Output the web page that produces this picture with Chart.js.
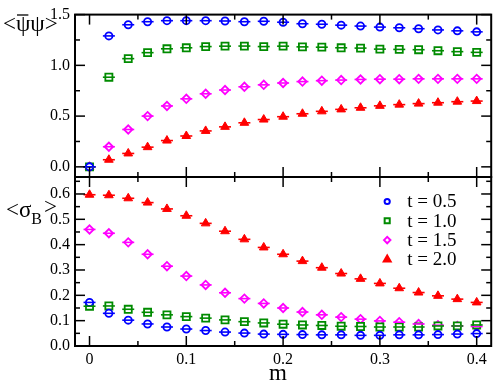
<!DOCTYPE html>
<html>
<head>
<meta charset="utf-8">
<script src="https://cdn.jsdelivr.net/npm/chart.js@4/dist/chart.umd.min.js"></script>
<style>
html,body{margin:0;padding:0;background:#fff;}
#wrap{position:relative;width:498px;height:381px;}
#wrap canvas{position:absolute;left:0;top:0;}
</style>
</head>
<body>
<div id="wrap">
<canvas id="cTop" width="498" height="381"></canvas>
<canvas id="cBot" width="498" height="381"></canvas>
</div>
<script>
// ---- data ----
const mValues = [0,0.02,0.04,0.06,0.08,0.10,0.12,0.14,0.16,0.18,0.20,0.22,0.24,0.26,0.28,0.30,0.32,0.34,0.36,0.38,0.40];
const seriesLabels = ["t = 0.5","t = 1.0","t = 1.5","t = 2.0"];

const psibarpsi_t05 = [0,1.29,1.40,1.43,1.44,1.44,1.44,1.437,1.43,1.434,1.425,1.41,1.405,1.396,1.387,1.377,1.37,1.361,1.349,1.34,1.33];
const psibarpsi_t10 = [0,0.883,1.066,1.125,1.163,1.173,1.185,1.189,1.19,1.185,1.189,1.182,1.179,1.173,1.17,1.16,1.157,1.154,1.144,1.135,1.128];
const psibarpsi_t15 = [0,0.198,0.368,0.5,0.6,0.67,0.72,0.757,0.789,0.808,0.826,0.84,0.849,0.855,0.861,0.864,0.864,0.867,0.867,0.867,0.867];
const psibarpsi_t20 = [0,0.07,0.132,0.194,0.259,0.304,0.354,0.394,0.434,0.466,0.494,0.523,0.547,0.566,0.582,0.601,0.613,0.623,0.632,0.642,0.648];

const sigmaB_t05 = [0.172,0.129,0.102,0.087,0.075,0.067,0.061,0.055,0.051,0.047,0.046,0.045,0.044,0.044,0.042,0.042,0.044,0.044,0.045,0.047,0.049];
const sigmaB_t10 = [0.157,0.158,0.145,0.133,0.123,0.116,0.11,0.103,0.096,0.091,0.086,0.083,0.081,0.078,0.077,0.075,0.075,0.075,0.079,0.079,0.083];
const sigmaB_t15 = [0.46,0.445,0.409,0.362,0.315,0.276,0.241,0.21,0.187,0.168,0.15,0.134,0.123,0.114,0.106,0.099,0.094,0.087,0.082,0.079,0.077];
const sigmaB_t20 = [0.597,0.595,0.583,0.566,0.541,0.514,0.484,0.453,0.421,0.389,0.362,0.335,0.309,0.286,0.265,0.247,0.228,0.211,0.198,0.185,0.172];

// ---- tick labels ----
const xMajorTicks = [0,0.1,0.2,0.3,0.4];
const xMinorTicks = [0.05,0.15,0.25,0.35];
const xTickLabels = ["0","0.1","0.2","0.3","0.4"];
const yTopMajorTicks = [0,0.5,1.0,1.5];
const yTopMinorTicks = [0.25,0.75,1.25];
const yTopTickLabels = ["0.0","0.5","1.0","1.5"];
const yBotMajorTicks = [0,0.1,0.2,0.3,0.4,0.5,0.6];
const yBotMinorTicks = [0.05,0.15,0.25,0.35,0.45,0.55,0.65];
const yBotTickLabels = ["0.0","0.1","0.2","0.3","0.4","0.5","0.6"];

const xTitle = "m";

// ---- styles ----
const FONT = "'Liberation Serif', 'DejaVu Serif', serif";
const styles = [
  {color:'#0000ff', pointStyle:'circle',  radius:3.6, bg:'#ffffff', bw:1.8, lr:2.6},
  {color:'#008b00', pointStyle:'rect',    radius:5.0, bg:'#ffffff', bw:1.8, lr:3.6},
  {color:'#ff00ff', pointStyle:'rectRot', radius:4.2, bg:'#ffffff', bw:1.8, lr:3.2},
  {color:'#ff0000', pointStyle:'triangle',radius:5.0, bg:'#ff0000', bw:1.0, lr:4.0}
];

function makeDatasets(arrs){
  return arrs.map((vals,i)=>({
    label: seriesLabels[i],
    data: mValues.map((m,j)=>({x:m, y:vals[j]})),
    showLine:false,
    pointStyle: styles[i].pointStyle,
    pointRadius: styles[i].radius,
    pointBorderWidth: styles[i].bw,
    pointBorderColor: styles[i].color,
    pointBackgroundColor: styles[i].bg,
    borderColor: styles[i].color,
    backgroundColor: styles[i].bg
  }));
}

const capsPlugin = {
  id:'caps',
  afterDatasetsDraw(chart){
    const ctx = chart.ctx;
    ctx.save();
    ctx.lineWidth = 1.6;
    for (let d = chart.data.datasets.length-1; d >= 0; d--){
      const meta = chart.getDatasetMeta(d);
      ctx.strokeStyle = chart.data.datasets[d].borderColor;
      meta.data.forEach(el=>{
        ctx.beginPath();
        ctx.moveTo(el.x-6, el.y);
        ctx.lineTo(el.x+6, el.y);
        ctx.stroke();
      });
    }
    ctx.restore();
  }
};

const frameTicksPlugin = {
  id:'frameTicks',
  afterDraw(chart, args, opts){
    const {ctx, chartArea:a, scales:{x,y}} = chart;
    ctx.save();
    ctx.strokeStyle = '#000';
    ctx.lineWidth = 1.5;
    const seg=(x1,y1,x2,y2)=>{ctx.beginPath();ctx.moveTo(x1,y1);ctx.lineTo(x2,y2);ctx.stroke();};
    const MAJ=10, MIN=5;
    xMajorTicks.forEach(v=>{const p=x.getPixelForValue(v); seg(p,a.bottom,p,a.bottom-MAJ); seg(p,a.top,p,a.top+MAJ);});
    xMinorTicks.forEach(v=>{const p=x.getPixelForValue(v); seg(p,a.bottom,p,a.bottom-MIN); seg(p,a.top,p,a.top+MIN);});
    opts.yMajor.forEach(v=>{const p=y.getPixelForValue(v); seg(a.left,p,a.left+MAJ,p); seg(a.right,p,a.right-MAJ,p);});
    opts.yMinor.forEach(v=>{const p=y.getPixelForValue(v); seg(a.left,p,a.left+MIN,p); seg(a.right,p,a.right-MIN,p);});
    ctx.lineWidth = 2;
    ctx.strokeRect(a.left, a.top, a.width, a.height);
    ctx.restore();
  }
};

const titlesPlugin = {
  id:'titles',
  afterDraw(chart, args, opts){
    const ctx = chart.ctx;
    const a = chart.chartArea;
    ctx.save();
    ctx.fillStyle = '#000';
    ctx.strokeStyle = '#000';
    ctx.textBaseline = 'alphabetic';
    ctx.textAlign = 'left';
    if (opts.kind === 'top'){
      ctx.font = "23px " + FONT;
      let xx = 3, base = 31;
      ctx.fillText('<', xx, base); xx += ctx.measureText('<').width;
      const wpsi = ctx.measureText('\u03c8').width;
      ctx.fillText('\u03c8', xx, base);
      ctx.lineWidth = 1.3;
      ctx.beginPath(); ctx.moveTo(xx+1, 15); ctx.lineTo(xx+wpsi-2, 15); ctx.stroke();
      xx += wpsi;
      ctx.fillText('\u03c8', xx, base); xx += wpsi;
      ctx.fillText('>', xx, base);
    } else {
      ctx.font = "23px " + FONT;
      let xx = 6, base = 217;
      ctx.fillText('<', xx, base); xx += ctx.measureText('<').width;
      ctx.fillText('\u03c3', xx, base); xx += ctx.measureText('\u03c3').width;
      ctx.font = "16px " + FONT;
      ctx.fillText('B', xx, 224); xx += ctx.measureText('B').width + 2;
      ctx.font = "23px " + FONT;
      ctx.fillText('>', xx, 214);
      // x title
      ctx.textAlign = 'center';
      ctx.font = "23px " + FONT;
      ctx.fillText(xTitle, 278, 380);
      // legend
      const ds = chart.data.datasets;
      const mx = a.right - 104, tx = a.right - 84;
      ctx.textAlign = 'left';
      ctx.textBaseline = 'middle';
      ds.forEach((d,i)=>{
        const yy = a.top + 24.5 + i*19.3;
        ctx.save();
        ctx.strokeStyle = styles[i].color;
        ctx.fillStyle = styles[i].bg;
        ctx.lineWidth = 2;
        Chart.helpers.drawPoint(ctx, {pointStyle: styles[i].pointStyle, radius: styles[i].lr, borderWidth: 2, rotation: 0}, mx, yy);
        ctx.restore();
        ctx.fillStyle = '#000';
        ctx.font = "19px " + FONT;
        ctx.fillText(d.label, tx, yy+1);
      });
    }
    ctx.restore();
  }
};

function baseOptions(){
  return {
    responsive:false,
    animation:false,
    events:[],
    plugins:{legend:{display:false}, tooltip:{enabled:false}},
  };
}

// ---- top panel ----
const topOpts = baseOptions();
topOpts.layout = {padding:{left:0, top:7, right:2, bottom:204}};
topOpts.plugins.frameTicks = {yMajor: yTopMajorTicks, yMinor: yTopMinorTicks};
topOpts.plugins.titles = {kind:'top'};
topOpts.scales = {
  x:{type:'linear', min:-0.015, max:0.415, display:false},
  y:{type:'linear', min:-0.1, max:1.5,
     grid:{display:false, drawTicks:false}, border:{display:false},
     afterBuildTicks: s=>{ s.ticks = yTopMajorTicks.map(v=>({value:v})); },
     afterFit: s=>{ s.width = 75; },
     ticks:{padding:5, color:'#000', font:{family:FONT, size:16},
       callback:(v)=>{ const k = yTopMajorTicks.indexOf(v); return k>=0 ? yTopTickLabels[k] : ''; }}
  }
};
new Chart(document.getElementById('cTop'), {
  type:'scatter',
  data:{datasets: makeDatasets([psibarpsi_t05, psibarpsi_t10, psibarpsi_t15, psibarpsi_t20])},
  options: topOpts,
  plugins:[capsPlugin, frameTicksPlugin, titlesPlugin]
});

// ---- bottom panel ----
const botOpts = baseOptions();
botOpts.layout = {padding:{left:0, top:177, right:2, bottom:0}};
botOpts.plugins.frameTicks = {yMajor: yBotMajorTicks, yMinor: yBotMinorTicks};
botOpts.plugins.titles = {kind:'bottom'};
botOpts.scales = {
  x:{type:'linear', min:-0.015, max:0.415,
     grid:{display:false, drawTicks:false}, border:{display:false},
     afterBuildTicks: s=>{ s.ticks = xMajorTicks.map(v=>({value:v})); },
     afterFit: s=>{ s.height = 35; },
     ticks:{padding:4, color:'#000', maxRotation:0, font:{family:FONT, size:16},
       callback:(v)=>{ const k = xMajorTicks.indexOf(v); return k>=0 ? xTickLabels[k] : ''; }}
  },
  y:{type:'linear', min:0, max:0.667,
     grid:{display:false, drawTicks:false}, border:{display:false},
     afterBuildTicks: s=>{ s.ticks = yBotMajorTicks.map(v=>({value:v})); },
     afterFit: s=>{ s.width = 75; },
     ticks:{padding:5, color:'#000', font:{family:FONT, size:16},
       callback:(v)=>{ const k = yBotMajorTicks.indexOf(v); return k>=0 ? yBotTickLabels[k] : ''; }}
  }
};
new Chart(document.getElementById('cBot'), {
  type:'scatter',
  data:{datasets: makeDatasets([sigmaB_t05, sigmaB_t10, sigmaB_t15, sigmaB_t20])},
  options: botOpts,
  plugins:[capsPlugin, frameTicksPlugin, titlesPlugin]
});
</script>
</body>
</html>
